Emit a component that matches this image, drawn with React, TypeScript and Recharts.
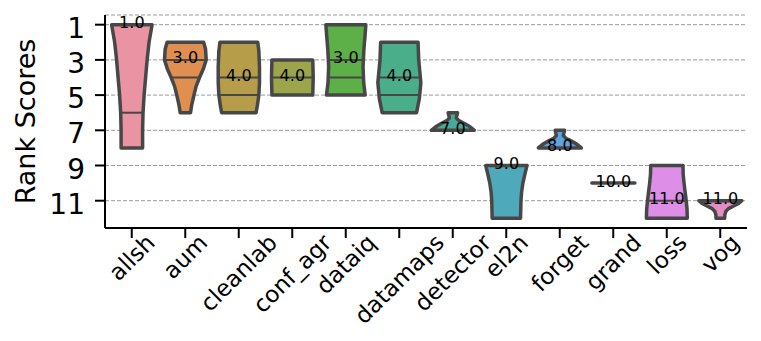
import React from 'react';
import { ComposedChart, Bar, XAxis, YAxis, CartesianGrid } from 'recharts';

// ---- data ----
const categories = ['allsh', 'aum', 'cleanlab', 'conf_agr', 'dataiq', 'datamaps', 'detector', 'el2n', 'forget', 'grand', 'loss', 'vog'];
const minRanks = [1, 2, 2, 3, 1, 2, 6, 9, 7, 10, 9, 11];
const maxRanks = [8, 6, 6, 5, 5, 6, 7, 12, 8, 10, 12, 12];
const labelValues = [1, 3, 4, 4, 3, 4, 7, 9, 8, 10, 11, 11];
const innerLines = [[6], [3, 4], [4, 5], [4], [3, 4], [4, 5], [], [], [], [], [11], []];

// violin profile: ranks and relative half-widths (density) at those ranks
const profileRanks = [
  [1, 1.5, 2, 3, 4, 5, 6, 7, 8],
  [2, 2.4, 3, 3.5, 4, 4.5, 5, 5.6, 6],
  [2, 2.5, 3.4, 4.3, 5, 5.6, 6],
  [3, 4, 5],
  [1, 1.5, 2.4, 3.4, 4.3, 5],
  [2, 3, 4.3, 5.2, 6],
  [6, 6.3, 6.45, 6.6, 6.8, 7],
  [9, 9.5, 10, 10.5, 11, 12],
  [7, 7.3, 7.45, 7.6, 7.8, 8],
  [10],
  [9, 9.5, 10, 10.5, 11, 11.5, 12],
  [11, 11.15, 11.3, 11.45, 11.6, 11.8, 12],
];
const profileWidths = [
  [0.94, 0.87, 0.8, 0.71, 0.64, 0.57, 0.52, 0.5, 0.5],
  [0.85, 0.94, 0.97, 0.84, 0.66, 0.5, 0.4, 0.29, 0.24],
  [0.88, 0.93, 0.96, 0.96, 0.93, 0.86, 0.8],
  [0.95, 0.97, 0.95],
  [0.93, 0.9, 0.84, 0.8, 0.83, 0.9],
  [0.87, 0.9, 1.0, 0.93, 0.8],
  [0.22, 0.16, 0.28, 0.52, 0.8, 1.0],
  [0.96, 0.86, 0.77, 0.71, 0.68, 0.66],
  [0.22, 0.16, 0.28, 0.52, 0.8, 1.0],
  [1.0],
  [0.75, 0.76, 0.8, 0.85, 0.9, 0.94, 0.95],
  [1.0, 0.85, 0.62, 0.38, 0.26, 0.21, 0.2],
];
const fillColors = ['#ea94a3', '#e08f50', '#b69d4a', '#9da54a', '#5daf47', '#4aae8a', '#47aa9b', '#4ea9bb', '#5ea5df', '#a99ae6', '#dd8ee6', '#e58cc4'];
const yTicks = [1, 3, 5, 7, 9, 11];

const rows = categories.map((name, i) => ({
  name,
  range: [minRanks[i], maxRanks[i]],
}));

const EDGE = '#474747';
const FONT = '"DejaVu Sans", sans-serif';

function interp(xs: number[], ys: number[], v: number) {
  if (xs.length === 1) return ys[0];
  if (v <= xs[0]) return ys[0];
  for (let k = 1; k < xs.length; k++) {
    if (v <= xs[k]) {
      const t = (v - xs[k - 1]) / (xs[k] - xs[k - 1]);
      return ys[k - 1] + t * (ys[k] - ys[k - 1]);
    }
  }
  return ys[ys.length - 1];
}

function Violin(props: any) {
  const { x, y, width, height, index } = props;
  const lo = minRanks[index];
  const hi = maxRanks[index];
  const h = height || 0;
  const top = Math.min(y, y + h);
  const bot = Math.max(y, y + h);
  const toPx = (v: number) => (hi === lo ? top : top + ((v - lo) / (hi - lo)) * (bot - top));
  const cx = x + width / 2;
  const half = width / 2;
  const ranks = profileRanks[index];
  const widths = profileWidths[index];
  const color = fillColors[index];
  let body;
  if (hi === lo) {
    const py = toPx(lo);
    body = (
      <line x1={cx - half * widths[0]} x2={cx + half * widths[0]} y1={py} y2={py} stroke={EDGE} strokeWidth={3.5} strokeLinecap="round" />
    );
  } else {
    const left = ranks.map((r, k) => `${cx - half * widths[k]},${toPx(r)}`);
    const right = ranks.map((r, k) => `${cx + half * widths[k]},${toPx(r)}`).reverse();
    const d = 'M' + left.join(' L') + ' L' + right.join(' L') + ' Z';
    body = <path d={d} fill={color} stroke={EDGE} strokeWidth={3.5} strokeLinejoin="round" />;
  }
  const lines = innerLines[index].map((v, k) => {
    const w = interp(ranks, widths, v) * half;
    const py = toPx(v);
    return <line key={k} x1={cx - w} x2={cx + w} y1={py} y2={py} stroke={EDGE} strokeWidth={2} />;
  });
  const ly = toPx(labelValues[index]);
  return (
    <g>
      {body}
      {lines}
      <text x={cx} y={ly + 3.5} textAnchor="middle" fontSize={16} fontFamily={FONT} fill="#000">
        {labelValues[index].toFixed(1)}
      </text>
    </g>
  );
}

let ctx: CanvasRenderingContext2D | null = null;
function measure(s: string, f: number) {
  if (!ctx) ctx = document.createElement('canvas').getContext('2d');
  if (!ctx) return s.length * f * 0.6;
  ctx.font = `${f}px "DejaVu Sans"`;
  return ctx.measureText(s).width;
}

function XTick(props: any) {
  const { x, y, payload } = props;
  const f = 23;
  const label = String(payload.value);
  const W = measure(label, f);
  const H = 1.164 * f;
  const halfExt = (W + H) / (2 * Math.SQRT2);
  const cx = x;
  const cy = y - 9 + halfExt;
  return (
    <text x={cx} y={cy} textAnchor="middle" dominantBaseline="central" fontSize={f} fontFamily={FONT} fill="#000" transform={`rotate(-45, ${cx}, ${cy})`}>
      {label}
    </text>
  );
}

function YTick(props: any) {
  const { x, y, payload } = props;
  return (
    <text x={x} y={y} dy={13} textAnchor="end" fontSize={28} fontFamily={FONT} fill="#000">
      {payload.value}
    </text>
  );
}

const YLabel = () => (
  <text x={25} y={121.5} transform="rotate(-90, 25, 121.5)" textAnchor="middle" dominantBaseline="central" fontSize={27} fontFamily={FONT} fill="#000">
    Rank Scores
  </text>
);

export default function App() {
  return (
    <div style={{ position: 'absolute', left: 0, top: 0, width: 761, height: 341, background: '#fff' }}>
      <ComposedChart width={761} height={341} data={rows} margin={{ top: 15, right: 14, bottom: 0, left: 0 }} barCategoryGap="10%">
        <CartesianGrid vertical={false} stroke="#999" strokeDasharray="4 2" strokeWidth={1} />
        <XAxis
          dataKey="name"
          interval={0}
          height={113}
          tickSize={10}
          tickMargin={0}
          tick={<XTick />}
          axisLine={{ stroke: '#000', strokeWidth: 2 }}
          tickLine={{ stroke: '#000', strokeWidth: 2 }}
        />
        <XAxis xAxisId="top" dataKey="name" orientation="top" height={0} tick={false} tickLine={false} axisLine={{ stroke: '#000', strokeWidth: 2 }} />
        <YAxis
          type="number"
          domain={[0.45, 12.55]}
          reversed
          allowDataOverflow
          ticks={yTicks}
          width={105}
          tickSize={10}
          tickMargin={10}
          tick={<YTick />}
          axisLine={{ stroke: '#000', strokeWidth: 2 }}
          tickLine={{ stroke: '#000', strokeWidth: 2 }}
          label={<YLabel />}
        />
        <YAxis yAxisId="right" orientation="right" width={0} tick={false} tickLine={false} axisLine={{ stroke: '#000', strokeWidth: 2 }} />
        <Bar dataKey="range" shape={<Violin />} isAnimationActive={false} />
      </ComposedChart>
    </div>
  );
}
